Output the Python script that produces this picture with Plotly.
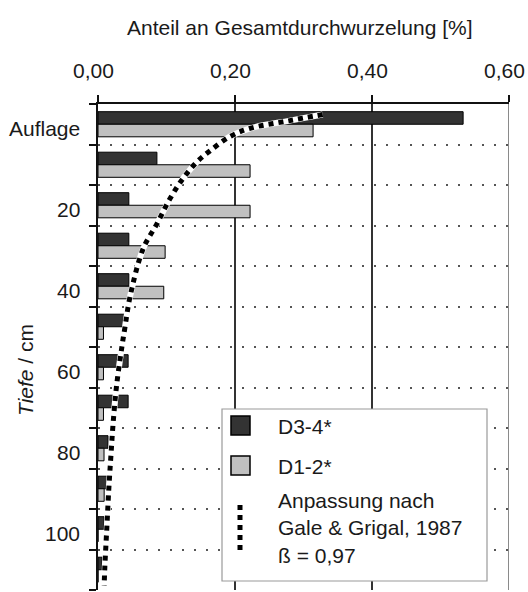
import plotly.graph_objects as go

# Depth rows (row centres, cm); 0 = "Auflage" (litter layer)
depth = [0, 10, 20, 30, 40, 50, 60, 70, 80, 90, 100, 110]
d34 = [0.533, 0.086, 0.045, 0.045, 0.045, 0.041, 0.044, 0.044, 0.0146, 0.014, 0.009, 0.006]
d12 = [0.314, 0.222, 0.222, 0.098, 0.096, 0.008, 0.008, 0.008, 0.0088, 0.009, 0.0, 0.0]

# fitted curve
curve_y = [-2.4, -0.9, 1.0, 3.0, 6.5, 9.2, 13.4, 18.4, 24.6, 30.7, 42.4, 50.5, 54.8, 64.7, 74.0, 81.5, 89.4, 99.3, 109.2, 114.0]
curve_x = [0.328, 0.280, 0.222, 0.193, 0.164, 0.145, 0.124, 0.105, 0.086, 0.066, 0.047, 0.039, 0.035, 0.027, 0.022, 0.019, 0.016, 0.013, 0.010, 0.009]

ytick_vals = [0, 20, 40, 60, 80, 100]
ytick_text = ["Auflage", "20", "40", "60", "80", "100"]
row_bounds = [-5, 5, 15, 25, 35, 45, 55, 65, 75, 85, 95, 105, 115]
xtick_vals = [0, 0.2, 0.4, 0.6]
xtick_text = ["0,00", "0,20", "0,40", "0,60"]

legend_labels = ["D3-4*", "D1-2*", "Anpassung nach<br>Gale & Grigal, 1987<br>ß = 0,97"]
DARK = "#333333"
LIGHT = "#c0c0c0"

FONT = "Liberation Sans, Arial, sans-serif"
W, H = 528, 592
ML, MR, MT, MB = 98, 19, 104, 2
PW, PH = W - ML - MR, H - MT - MB


def px(xw):
    """window pixel x -> paper x"""
    return (xw - ML) / PW


def py(yw):
    """window pixel y -> paper y"""
    return (H - MB - yw) / PH


fig = go.Figure()
fig.add_trace(go.Bar(y=depth, x=d34, orientation="h", name=legend_labels[0], showlegend=False,
                     marker=dict(color=DARK, line=dict(color="#000000", width=1))))
fig.add_trace(go.Bar(y=depth, x=d12, orientation="h", name=legend_labels[1], showlegend=False,
                     marker=dict(color=LIGHT, line=dict(color="#000000", width=1))))
fig.add_trace(go.Scatter(y=curve_y, x=curve_x, mode="lines", showlegend=False, hoverinfo="skip",
                         line=dict(color="white", width=6, shape="spline")))
fig.add_trace(go.Scatter(y=curve_y, x=curve_x, mode="lines", showlegend=False,
                         name=legend_labels[2],
                         line=dict(color="black", width=5, dash="dot", shape="spline")))

shapes = [
    # right frame line
    dict(type="line", xref="x", yref="paper", x0=0.6, x1=0.6, y0=0, y1=1,
         line=dict(color="#8a8a8a", width=2), layer="below"),
    # legend box
    dict(type="rect", xref="paper", yref="paper", x0=px(222), x1=px(487), y0=py(581), y1=py(409),
         line=dict(color="#9a9a9a", width=1.2), fillcolor="white", layer="above"),
    dict(type="rect", xref="paper", yref="paper", x0=px(231), x1=px(250), y0=py(435), y1=py(416),
         line=dict(color="#000", width=1.5), fillcolor=DARK, layer="above"),
    dict(type="rect", xref="paper", yref="paper", x0=px(231), x1=px(250), y0=py(475), y1=py(456),
         line=dict(color="#000", width=1.5), fillcolor=LIGHT, layer="above"),
    dict(type="line", xref="paper", yref="paper", x0=px(240), x1=px(240), y0=py(550), y1=py(504),
         line=dict(color="#000", width=5, dash="dot"), layer="above"),
]

annotations = [
    dict(text="Anteil an Gesamtdurchwurzelung [%]", xref="paper", yref="paper",
         x=px(300), y=py(27), xanchor="center", yanchor="middle", showarrow=False,
         font=dict(size=21)),
    dict(text="<i>Tiefe</i> / cm", xref="paper", yref="paper",
         x=px(25), y=py(370), xanchor="center", yanchor="middle", showarrow=False,
         textangle=-90, font=dict(size=21)),
    dict(text=legend_labels[0], xref="paper", yref="paper", x=px(276), y=py(426),
         xanchor="left", yanchor="middle", showarrow=False, font=dict(size=21)),
    dict(text=legend_labels[1], xref="paper", yref="paper", x=px(276), y=py(466),
         xanchor="left", yanchor="middle", showarrow=False, font=dict(size=21)),
    dict(text=legend_labels[2], xref="paper", yref="paper", x=px(276), y=py(528),
         xanchor="left", yanchor="middle", align="left", showarrow=False, font=dict(size=21)),
]
# depth tick labels (centred in their rows)
for v, t in zip(ytick_vals, ytick_text):
    annotations.append(dict(text=t, xref="paper", yref="y", x=px(82), y=v, yshift=-4,
                            xanchor="right", yanchor="middle", showarrow=False,
                            font=dict(size=21)))
# share tick labels (top axis)
for v, t in zip(xtick_vals, xtick_text):
    annotations.append(dict(text=t, xref="x", yref="paper", x=v, y=py(70), xshift=-5,
                            xanchor="center", yanchor="middle", showarrow=False,
                            font=dict(size=21)))

fig.update_layout(
    width=W, height=H,
    margin=dict(l=ML, r=MR, t=MT, b=MB, autoexpand=False),
    paper_bgcolor="white", plot_bgcolor="white",
    font=dict(family=FONT, size=21, color="#1a1a1a"),
    barmode="group", bargap=0.38, bargroupgap=0,
    showlegend=False,
    xaxis=dict(side="top", range=[0, 0.6], tickvals=xtick_vals, showticklabels=False,
               ticks="outside", ticklen=7, tickwidth=1.5, tickcolor="#111",
               showline=True, linecolor="#111", linewidth=1.5,
               showgrid=True, gridcolor="#333", gridwidth=1.5, zeroline=False),
    yaxis=dict(range=[115, -5], tickvals=row_bounds, showticklabels=False,
               ticks="outside", ticklen=7, tickwidth=1.5, tickcolor="#111",
               showline=True, linecolor="#111", linewidth=1.5,
               showgrid=True, gridcolor="#555", gridwidth=2, griddash="2px,10px",
               zeroline=False),
    shapes=shapes,
    annotations=annotations,
)

fig.write_html("out.html", config={"displayModeBar": False},
               post_script="document.body.style.margin='0px';document.body.style.overflow='hidden';")
